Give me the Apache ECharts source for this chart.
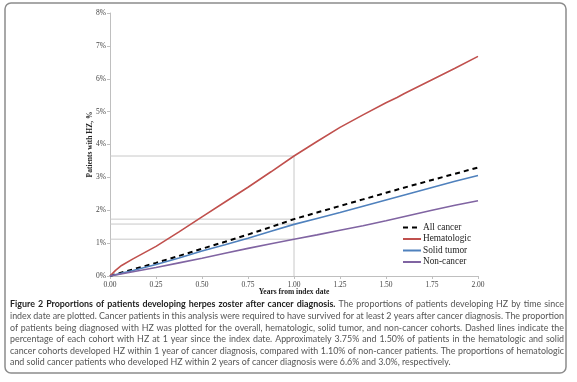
<!DOCTYPE html>
<html>
<head>
<meta charset="utf-8">
<script src="https://cdn.jsdelivr.net/npm/echarts@6/dist/echarts.min.js"></script>
<style>html,body{margin:0;padding:0;background:#fff}#c{width:577px;height:382px}</style>
</head>
<body>
<div id="c"></div>
<script>
// Data
const seriesNames = ['All cancer', 'Hematologic', 'Solid tumor', 'Non-cancer'];
const allCancer = [[0,0],[0.06,0.1],[0.125,0.2],[0.25,0.4],[0.375,0.61],[0.5,0.83],[0.625,1.04],[0.75,1.26],[0.875,1.49],[1.0,1.73],[1.125,1.93],[1.25,2.13],[1.375,2.33],[1.5,2.53],[1.625,2.73],[1.75,2.92],[1.875,3.11],[2.0,3.30]];
const hematologic = [[0,0],[0.03,0.17],[0.063,0.32],[0.125,0.52],[0.25,0.9],[0.375,1.34],[0.5,1.80],[0.625,2.25],[0.75,2.70],[0.875,3.17],[1.0,3.65],[1.125,4.09],[1.25,4.52],[1.375,4.9],[1.5,5.27],[1.56,5.43],[1.6,5.55],[1.75,5.97],[1.875,6.32],[2.0,6.68]];
const solidTumor = [[0,0],[0.06,0.08],[0.125,0.17],[0.25,0.35],[0.375,0.55],[0.5,0.76],[0.625,0.95],[0.75,1.15],[0.875,1.36],[1.0,1.57],[1.125,1.75],[1.25,1.93],[1.375,2.12],[1.5,2.31],[1.625,2.5],[1.75,2.69],[1.875,2.88],[2.0,3.06]];
const nonCancer = [[0,0],[0.06,0.06],[0.125,0.13],[0.25,0.26],[0.375,0.4],[0.5,0.54],[0.625,0.69],[0.75,0.84],[0.875,0.98],[1.0,1.12],[1.125,1.25],[1.25,1.39],[1.375,1.53],[1.5,1.68],[1.625,1.84],[1.75,2.0],[1.875,2.15],[2.0,2.29]];
const refYear = 1.0;
const refValues = [3.65, 1.73, 1.58, 1.12];
const xTicks = [0, 2, 0.25];
const yTicks = [0, 8, 1];
const captionBold = 'Figure 2 Proportions of patients developing herpes zoster after cancer diagnosis.';
const captionLines = [
  'The proportions of patients developing HZ by time since',
  'index date are plotted. Cancer patients in this analysis were required to have survived for at least 2 years after cancer diagnosis. The proportion',
  'of patients being diagnosed with HZ was plotted for the overall, hematologic, solid tumor, and non-cancer cohorts. Dashed lines indicate the',
  'percentage of each cohort with HZ at 1 year since the index date. Approximately 3.75% and 1.50% of patients in the hematologic and solid',
  'cancer cohorts developed HZ within 1 year of cancer diagnosis, compared with 1.10% of non-cancer patients. The proportions of hematologic',
  'and solid cancer patients who developed HZ within 2 years of cancer diagnosis were 6.6% and 3.0%, respectively.'
];

const chart = echarts.init(document.getElementById('c'), null, {renderer: 'canvas'});
const serif = 'Liberation Serif';
const refSeries = refValues.map(v => ({
  type: 'line', data: [[0, v], [refYear, v]], symbol: 'none', silent: true,
  lineStyle: {color: '#c8c8c8', width: 1}, z: 1
}));
refSeries.push({
  type: 'line', data: [[refYear, 0], [refYear, refValues[0]]], symbol: 'none', silent: true,
  lineStyle: {color: '#c8c8c8', width: 1}, z: 1
});
const colors = ['#000000', '#c0504d', '#4f81bd', '#8064a2'];
const datas = [allCancer, hematologic, solidTumor, nonCancer];
const mainSeries = seriesNames.map((n, i) => ({
  name: n, type: 'line', data: datas[i], symbol: 'none', z: 3,
  lineStyle: {color: colors[i], width: i === 0 ? 2 : 1.6, type: i === 0 ? [5, 4] : 'solid'},
  itemStyle: {color: colors[i]}
}));

// caption: justified text laid out word by word
const capFont = 'Lato', capSize = 8.9, capLeft = 10, capRight = 564, capTop = 300, capLH = 11.6;
const ctx = document.createElement('canvas').getContext('2d');
function measure(t, bold) { ctx.font = (bold ? 'bold ' : '') + capSize + 'px ' + capFont; return ctx.measureText(t).width; }
const graphics = [
  {type: 'rect', shape: {x: 5, y: 3, width: 561, height: 370, r: 6}, style: {fill: 'none', stroke: '#8c8c8c', lineWidth: 1.5}, z: -1}
];
captionLines.forEach((line, li) => {
  let tokens = line.split(' ').map(w => ({w, bold: false}));
  if (li === 0) tokens = captionBold.split(' ').map(w => ({w, bold: true})).concat(tokens);
  const widths = tokens.map(t => measure(t.w, t.bold));
  const total = widths.reduce((a, b) => a + b, 0);
  const last = li === captionLines.length - 1;
  const gap = last ? measure(' ', false) : (capRight - capLeft - total) / (tokens.length - 1);
  let x = capLeft;
  tokens.forEach((t, k) => {
    graphics.push({type: 'text', x: x, y: capTop + li * capLH, silent: true, style: {
      text: t.w, fontFamily: capFont, fontSize: capSize, fontWeight: t.bold ? 'bold' : 'normal',
      fill: t.bold ? '#222' : '#555', textBaseline: 'top'
    }});
    x += widths[k] + gap;
  });
});

chart.setOption({
  animation: false,
  backgroundColor: '#fff',
  grid: {left: 110, right: 99, top: 13, bottom: 106, containLabel: false},
  legend: {
    data: seriesNames, orient: 'vertical', left: 397, top: 218,
    itemWidth: 18, itemHeight: 6, itemGap: 2.5,
    itemStyle: {opacity: 0},
    textStyle: {fontFamily: serif, fontSize: 9.3, color: '#222', padding: [0, 0, 0, -3]},
    selectedMode: false
  },
  xAxis: {
    type: 'value', min: xTicks[0], max: xTicks[1], interval: xTicks[2],
    name: 'Years from index date', nameLocation: 'middle', nameGap: 12, nameMoveOverlap: false,
    nameTextStyle: {fontFamily: serif, fontWeight: 'bold', fontSize: 7.5, color: '#222'},
    axisLine: {show: true, lineStyle: {color: '#bfbfbf'}},
    axisTick: {show: true, length: 3, lineStyle: {color: '#bfbfbf'}},
    axisLabel: {fontFamily: serif, fontSize: 7.5, color: '#444', margin: 5, formatter: v => v.toFixed(2)},
    splitLine: {show: false}
  },
  yAxis: {
    type: 'value', min: yTicks[0], max: yTicks[1], interval: yTicks[2],
    name: 'Patients with HZ, %', nameLocation: 'middle', nameGap: 16, nameMoveOverlap: false,
    nameTextStyle: {fontFamily: serif, fontWeight: 'bold', fontSize: 7.5, color: '#222'},
    axisLine: {show: true, lineStyle: {color: '#bfbfbf'}},
    axisTick: {show: true, length: 3, lineStyle: {color: '#bfbfbf'}},
    axisLabel: {fontFamily: serif, fontSize: 7.5, color: '#444', margin: 4, formatter: v => v + '%'},
    splitLine: {show: false}
  },
  series: refSeries.concat(mainSeries),
  graphic: graphics
});
</script>
</body>
</html>
